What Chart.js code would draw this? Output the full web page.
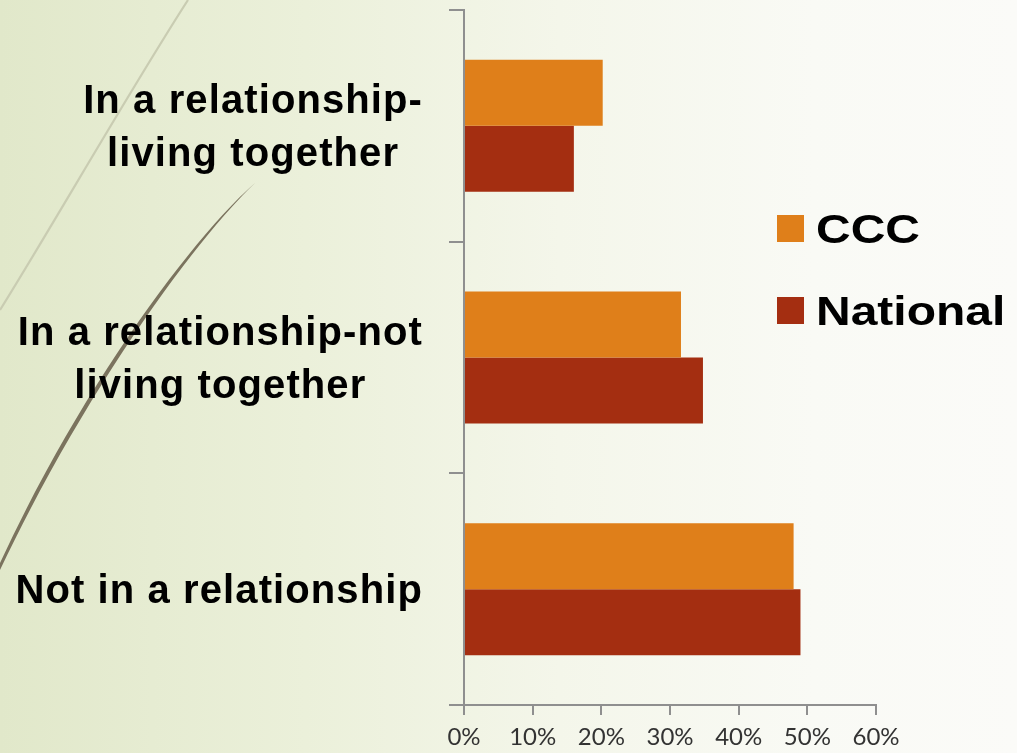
<!DOCTYPE html>
<html>
<head>
<meta charset="utf-8">
<script src="https://cdn.jsdelivr.net/npm/chart.js@4/dist/chart.umd.min.js"></script>
<style>
  html, body { margin: 0; padding: 0; }
  body {
    width: 1017px; height: 753px; overflow: hidden; position: relative;
    background: linear-gradient(90deg, #e1e8ca 0%, #ebf0da 30%, #f4f6ea 55%, #f9faf5 80%, #fbfbf8 100%);
  }
  #deco { position: absolute; left: 0; top: 0; }
  #c { position: absolute; left: 0; top: 0; }
</style>
</head>
<body>
<svg id="deco" width="1017" height="753" viewBox="0 0 1017 753">
  <path d="M188,0 C130,90 50,230 0,310" fill="none" stroke="#c9ccb2" stroke-width="2.2"/>
  <path d="M255,183 C190,240 80,390 0,563 L0,570 C84,393 193,242 255,183 Z" fill="#7b735e"/>
</svg>
<canvas id="c" width="1017" height="753"></canvas>
<script>
const categories = [
  ["In a relationship-", "living together"],
  ["In a relationship-not", "living together"],
  ["Not in a relationship"]
];
const seriesNames = ["CCC", "National"];
const cccValues = [20.2, 31.6, 48.0];
const nationalValues = [16.0, 34.8, 49.0];
const tickValues = [0, 10, 20, 30, 40, 50, 60];

const COLORS = ["#df7f1a", "#a42e11"];
const AXIS = "#8f8f8f";
const LABEL_FONT = "bold 40px 'Liberation Sans', Arial, sans-serif";

const labelPlugin = {
  id: 'catLabels',
  afterDraw(chart) {
    const ctx = chart.ctx;
    const y = chart.scales.y;
    ctx.save();
    ctx.font = LABEL_FONT;
    ctx.fillStyle = "#000";
    ctx.textBaseline = "alphabetic";
    ctx.textAlign = "center";
    if ('letterSpacing' in ctx) ctx.letterSpacing = "1.1px";
    const right = 423;
    const lh = 53;
    categories.forEach((lines, i) => {
      const cy = y.getPixelForValue(i);
      const maxW = Math.max(...lines.map(l => ctx.measureText(l).width));
      const cx = right - maxW / 2;
      lines.forEach((l, j) => {
        const by = cy + 14 + (j - (lines.length - 1) / 2) * lh;
        ctx.fillText(l, cx, by);
      });
    });
    ctx.restore();
  }
};

const legendPlugin = {
  id: 'customLegend',
  afterDraw(chart) {
    const ctx = chart.ctx;
    chart.data.datasets.forEach((ds, i) => {
      const top = 215 + i * 82;
      ctx.save();
      ctx.fillStyle = ds.backgroundColor;
      ctx.fillRect(777, top, 27, 27);
      ctx.font = LABEL_FONT;
      ctx.textBaseline = "alphabetic";
      ctx.textAlign = "left";
      ctx.fillStyle = "#000";
      ctx.translate(816, top + 28);
      ctx.scale(1.2, 1);
      ctx.fillText(ds.label, 0, 0);
      ctx.restore();
    });
  }
};

new Chart(document.getElementById('c'), {
  type: 'bar',
  data: {
    labels: categories.map(l => l.join(' ')),
    datasets: [
      { label: seriesNames[0], data: cccValues, backgroundColor: COLORS[0], categoryPercentage: 0.57, barPercentage: 1.0 },
      { label: seriesNames[1], data: nationalValues, backgroundColor: COLORS[1], categoryPercentage: 0.57, barPercentage: 1.0 }
    ]
  },
  options: {
    indexAxis: 'y',
    responsive: false,
    animation: false,
    devicePixelRatio: 1,
    layout: { padding: { top: 10, right: 141, left: 0, bottom: 0 } },
    plugins: { legend: { display: false }, tooltip: { enabled: false } },
    scales: {
      x: {
        min: tickValues[0],
        max: tickValues[tickValues.length - 1],
        afterBuildTicks: s => { s.ticks = tickValues.map(v => ({ value: v })); },
        afterFit: s => { s.height = 48; },
        ticks: {
          callback: v => v + '%',
          color: '#333333',
          font: { family: "Lato, 'DejaVu Sans', sans-serif", size: 24 },
          padding: 8,
          maxRotation: 0
        },
        grid: { drawOnChartArea: false, drawTicks: true, tickLength: 10, color: AXIS, lineWidth: 2 },
        border: { display: true, color: AXIS, width: 2 }
      },
      y: {
        afterFit: s => { s.width = 464; },
        ticks: { display: false },
        grid: { offset: true, drawOnChartArea: false, drawTicks: true, tickLength: 15, color: AXIS, lineWidth: 2 },
        border: { display: true, color: AXIS, width: 2 }
      }
    }
  },
  plugins: [labelPlugin, legendPlugin]
});
</script>
</body>
</html>
